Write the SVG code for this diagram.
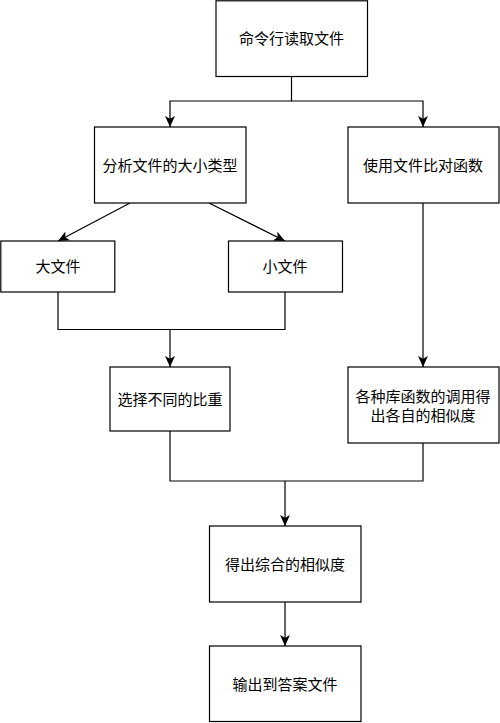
<svg xmlns="http://www.w3.org/2000/svg" width="500" height="723" viewBox="0 0 500 723">
<style>
.box{fill:#fff;stroke:#000;stroke-width:1.2}
.lbl{font-family:"Liberation Sans","Noto Sans CJK SC",sans-serif;font-size:15px;fill:#000;text-anchor:middle;dominant-baseline:central}
.edge{fill:none;stroke:#000;stroke-width:1.2}
</style>
<defs>
<marker id="arr" viewBox="0 0 10 10" refX="10" refY="5" markerWidth="11" markerHeight="11" markerUnits="userSpaceOnUse" orient="auto">
<path d="M0,0.5 L10,5 L0,9.5 L2.5,5 z" fill="#000"/>
</marker>
</defs>
<rect width="500" height="723" fill="#fff"/>
<g id="connectors">
<path class="edge" d="M291.5,76.5 V101 H170 V127" marker-end="url(#arr)"/>
<path class="edge" d="M291.5,101 H423 V127" marker-end="url(#arr)"/>
<path class="edge" d="M130,203 L58,241" marker-end="url(#arr)"/>
<path class="edge" d="M209,203 L285,241" marker-end="url(#arr)"/>
<path class="edge" d="M58,292 V329.5 H285 V292"/>
<path class="edge" d="M170,329.5 V367" marker-end="url(#arr)"/>
<path class="edge" d="M423,203 V367" marker-end="url(#arr)"/>
<path class="edge" d="M170,431 V481 H423 V443"/>
<path class="edge" d="M285,481 V526" marker-end="url(#arr)"/>
<path class="edge" d="M285,602 V646" marker-end="url(#arr)"/>
</g>
<g id="n1"><rect class="box" x="216" y="0.8" width="151.5" height="75.7"/><text class="lbl" x="291.5" y="38.5">命令行读取文件</text></g>
<g id="n2"><rect class="box" x="94.5" y="127" width="151.5" height="76"/><text class="lbl" x="170" y="165">分析文件的大小类型</text></g>
<g id="n3"><rect class="box" x="348" y="127" width="151" height="76"/><text class="lbl" x="423" y="165">使用文件比对函数</text></g>
<g id="n4"><rect class="box" x="0.8" y="241" width="114" height="51"/><text class="lbl" x="58" y="266">大文件</text></g>
<g id="n5"><rect class="box" x="228.5" y="241" width="114" height="51"/><text class="lbl" x="285" y="266">小文件</text></g>
<g id="n6"><rect class="box" x="110" y="367" width="120" height="64"/><text class="lbl" x="170" y="399">选择不同的比重</text></g>
<g id="n7"><rect class="box" x="348" y="367" width="151" height="76"/><text class="lbl" x="423" y="396">各种库函数的调用得</text><text class="lbl" x="423" y="415">出各自的相似度</text></g>
<g id="n8"><rect class="box" x="209.5" y="526" width="151.5" height="76"/><text class="lbl" x="285" y="564">得出综合的相似度</text></g>
<g id="n9"><rect class="box" x="209.5" y="646" width="151.5" height="75.5"/><text class="lbl" x="285" y="684">输出到答案文件</text></g>
</svg>
